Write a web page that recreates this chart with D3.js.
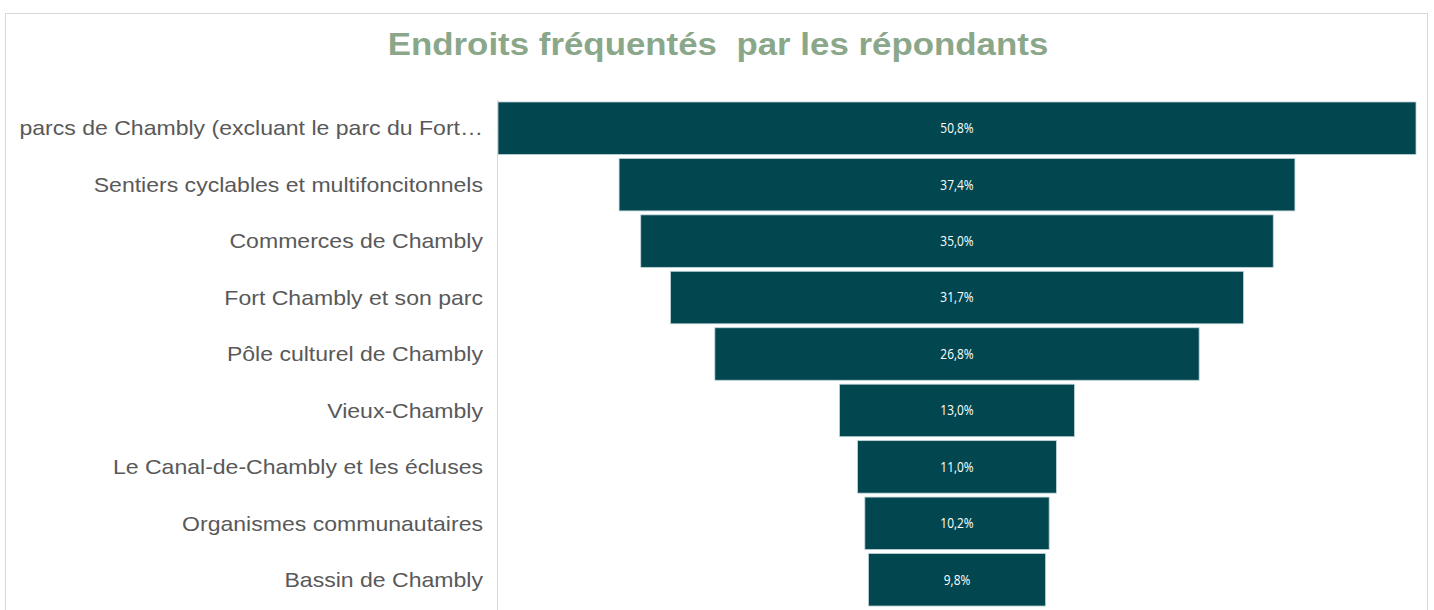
<!DOCTYPE html>
<html>
<head>
<meta charset="utf-8">
<script src="https://cdn.jsdelivr.net/npm/d3@7"></script>
<style>
	body { margin: 0; background: #ffffff; }
	.title { font-family: "Liberation Sans", Arial, sans-serif; font-weight: bold; font-size: 31px; fill: #8aa78a; }
	.cat { font-family: "Liberation Sans", Arial, sans-serif; font-size: 20.5px; fill: #595959; }
	.val { font-family: "Open Sans", "Noto Sans", sans-serif; font-size: 14px; fill: #ffffff; }
</style>
</head>
<body>
<svg></svg>
<script>
	var categories = [
		"parcs de Chambly (excluant le parc du Fort…",
		"Sentiers cyclables et multifoncitonnels",
		"Commerces de Chambly",
		"Fort Chambly et son parc",
		"Pôle culturel de Chambly",
		"Vieux-Chambly",
		"Le Canal-de-Chambly et les écluses",
		"Organismes communautaires",
		"Bassin de Chambly"
	];
	var values = [50.8, 37.4, 35.0, 31.7, 26.8, 13.0, 11.0, 10.2, 9.8];
	var titleText = "Endroits fréquentés\u00a0 par les répondants";

	var W = 1434, H = 610;
	var stretch = 1.125;	// text in the original is drawn a bit wide
	var svg = d3.select("svg").attr("width", W).attr("height", H);

	// chart frame
	svg.append("rect")
		.attr("x", 5.5).attr("y", 13.5)
		.attr("width", 1422).attr("height", 620)
		.attr("fill", "#ffffff").attr("stroke", "#d9d9d9").attr("stroke-width", 1);

	svg.append("g").attr("transform", "translate(718,55) scale(" + stretch + ",1)")
		.append("text").attr("class", "title")
		.attr("text-anchor", "middle")
		.text(titleText);

	var axisX = 497.5, centerX = 957;
	var halfW = 459;

	var y = d3.scaleBand().domain(categories).range([100, 608])
		.paddingInner(0.07).paddingOuter(0.035);
	var w = d3.scaleLinear().domain([0, d3.max(values)]).range([0, halfW * 2]);

	var rows = categories.map(function (c, i) { return { cat: c, v: values[i] }; });

	svg.append("line")
		.attr("x1", axisX).attr("x2", axisX)
		.attr("y1", 100).attr("y2", H)
		.attr("stroke", "#d9d9d9").attr("stroke-width", 1);

	svg.append("g").selectAll("rect").data(rows)
		.enter()
		.append("rect")
		.attr("x", function (d) { return centerX - w(d.v) / 2; })
		.attr("y", function (d) { return y(d.cat); })
		.attr("width", function (d) { return w(d.v); })
		.attr("height", y.bandwidth())
		.attr("fill", "#02474f")
		.attr("stroke", "#bfd3d8").attr("stroke-width", 0.8);

	svg.append("g").selectAll("g").data(rows)
		.enter()
		.append("g")
		.attr("transform", function (d) { return "translate(" + centerX + "," + (y(d.cat) + y.bandwidth() / 2) + ") scale(0.85,1)"; })
		.append("text").attr("class", "val")
		.attr("dy", "0.35em")
		.attr("text-anchor", "middle")
		.text(function (d) { return d3.format(".1f")(d.v).replace(".", ",") + "%"; });

	svg.append("g").selectAll("g").data(rows)
		.enter()
		.append("g")
		.attr("transform", function (d) { return "translate(483," + (y(d.cat) + y.bandwidth() / 2) + ") scale(" + stretch + ",1)"; })
		.append("text").attr("class", "cat")
		.attr("dy", "0.35em")
		.attr("text-anchor", "end")
		.text(function (d) { return d.cat; });
</script>
</body>
</html>
